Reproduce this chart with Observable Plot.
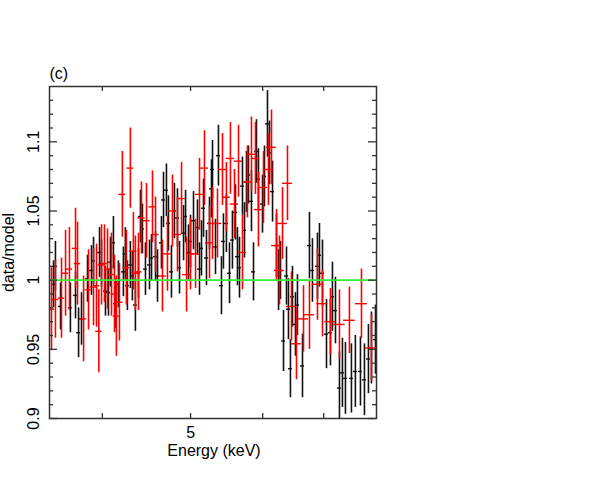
<!DOCTYPE html>
<html>
<head>
<meta charset="utf-8">
<script src="https://cdn.jsdelivr.net/npm/d3@7"></script>
<script src="https://cdn.jsdelivr.net/npm/@observablehq/plot@0.6"></script>
<style>
  html, body { margin: 0; padding: 0; background: #fff; }
</style>
</head>
<body>
<div id="chart"></div>
<script>
// ---- Data: black data set (energy keV, data/model ratio, 1-sigma error) ----
const blackE = [3.536,3.553,3.599,3.690,3.738,3.767,3.795,3.853,3.892,3.912,3.972,3.992,
  4.032,4.063,4.083,4.114,4.135,4.166,4.219,4.240,4.262,4.294,4.316,4.349,4.383,4.405,4.427,4.461,4.507,4.530,4.576,4.599,
  4.645,4.669,4.704,4.728,4.764,4.800,4.837,4.862,4.912,4.937,4.974,4.999,5.037,5.088,5.114,5.140,5.166,5.205,5.245,5.271,
  5.285,5.325,5.365,5.406,5.433,5.474,5.517,5.558,5.601,5.629,5.658,5.701,5.730,5.759,5.788,5.832,5.862,5.906,5.936,5.997,6.027,
  6.073,6.104,6.151,6.213,6.245,6.276,6.324,6.372,6.404,6.436,6.469,6.518,6.551,6.635,6.753,6.804,6.891,6.926,
  6.979,7.050,7.121,7.157,7.212,7.285,7.340,7.396,7.509,7.584,7.682,7.760,7.839,7.899,7.980];
const blackR = [0.997,1.010,0.981,0.980,0.989,0.962,0.972,1.001,1.007,1.014,1.020,1.012,
  0.992,0.991,1.013,1.027,0.983,0.997,1.006,1.019,0.996,1.011,1.003,0.982,1.005,1.046,1.037,1.008,1.011,1.016,1.017,1.003,
  1.027,1.058,1.065,1.041,1.006,1.050,1.045,1.009,1.034,1.046,1.020,1.028,1.043,1.038,1.008,1.023,1.052,1.016,1.041,1.066,
  1.080,1.024,1.090,0.996,1.028,1.041,1.005,1.029,1.049,1.017,1.009,1.068,1.036,1.071,1.076,1.057,1.006,1.093,1.073,1.055,1.075,
  1.113,1.092,1.064,1.025,1.000,1.007,0.956,1.003,0.979,0.936,0.988,0.968,0.982,0.938,1.025,1.007,1.010,1.018,
  1.005,0.961,0.962,0.988,0.978,0.922,0.933,0.929,0.929,0.934,0.934,0.928,0.943,0.951,0.957];
const blackErr = [0.017,0.018,0.017,0.018,0.017,0.018,0.019,0.017,0.018,0.017,0.018,0.017,
  0.018,0.017,0.018,0.019,0.018,0.017,0.018,0.019,0.018,0.017,0.018,0.019,0.018,0.019,0.018,0.019,0.018,0.017,0.018,0.019,
  0.019,0.020,0.019,0.020,0.019,0.020,0.021,0.019,0.020,0.019,0.020,0.019,0.021,0.020,0.019,0.020,0.021,0.020,0.019,0.021,
  0.021,0.020,0.022,0.021,0.020,0.021,0.022,0.021,0.020,0.021,0.022,0.021,0.020,0.022,0.021,0.022,0.021,0.023,0.022,0.021,0.022,
  0.024,0.023,0.022,0.023,0.022,0.021,0.022,0.021,0.022,0.021,0.022,0.023,0.022,0.023,0.024,0.023,0.024,0.023,
  0.024,0.025,0.024,0.025,0.024,0.026,0.025,0.026,0.025,0.026,0.025,0.026,0.025,0.026,0.025];
const blackHalfBin = 0.005; // relative half bin width

// ---- Data: red data set ----
const redE = [3.518,3.553,3.608,3.645,3.681,3.738,3.757,3.815,3.863,3.912,3.942,3.965,3.992,
  4.022,4.053,4.094,4.125,4.145,4.177,4.208,4.251,4.294,4.327,4.349,4.383,4.416,4.473,4.541,4.576,
  4.657,4.716,4.776,4.837,4.887,4.949,4.999,5.063,5.114,5.179,5.245,
  5.285,5.352,5.420,5.474,5.530,5.587,5.644,5.701,5.773,5.832,5.891,5.936,6.012,
  6.088,6.135,6.213,6.260,6.308,6.388,6.453,6.535,6.652,6.753,6.891,
  6.979,7.121,7.285,7.471,7.702,7.899];
const redR = [0.979,0.986,0.987,1.005,1.008,1.023,1.012,0.972,0.993,0.995,0.996,0.963,1.011,
  1.012,1.008,1.004,0.990,0.974,0.984,1.062,1.009,1.081,1.021,1.005,1.006,1.045,1.043,1.053,1.033,
  1.003,1.019,1.050,1.033,1.059,1.004,1.019,1.019,1.062,1.081,1.027,
  1.041,1.041,1.080,1.060,1.088,1.055,1.086,1.020,1.071,1.091,1.088,1.051,1.067,
  1.080,1.096,1.025,1.007,1.041,1.070,0.981,0.954,0.972,0.975,0.997,
  0.983,0.970,0.968,0.971,0.983,0.951];
const redErr = [0.030,0.028,0.029,0.031,0.030,0.029,0.030,0.031,0.029,0.028,0.030,0.030,0.029,
  0.028,0.029,0.030,0.028,0.029,0.028,0.031,0.027,0.029,0.028,0.027,0.028,0.026,0.027,0.026,0.027,
  0.026,0.027,0.026,0.027,0.026,0.027,0.026,0.025,0.026,0.027,0.026,
  0.026,0.025,0.026,0.025,0.026,0.025,0.026,0.027,0.026,0.027,0.026,0.027,0.026,
  0.026,0.027,0.026,0.025,0.026,0.027,0.025,0.026,0.024,0.025,0.026,
  0.024,0.024,0.025,0.024,0.025,0.024];
const redXErr = [0.028,0.028,0.029,0.029,0.029,0.030,0.030,0.030,0.031,0.031,0.031,0.032,0.032,
  0.034,0.034,0.035,0.035,0.035,0.036,0.036,0.037,0.037,0.038,0.038,0.039,0.040,0.040,0.041,0.041,
  0.046,0.046,0.047,0.048,0.048,0.049,0.050,0.050,0.051,0.052,0.052,
  0.055,0.056,0.056,0.057,0.058,0.058,0.059,0.060,0.061,0.061,0.062,0.062,0.063,
  0.075,0.076,0.077,0.078,0.079,0.080,0.081,0.082,0.084,0.085,0.087,
  0.095,0.100,0.105,0.110,0.115,0.115];

// ---- Model line and axes ----
const modelLevel = [1];
const xDomain = [3.5, 8];
const yDomain = [0.9, 1.14];
const xTicks = [4, 5, 6, 7];
const xLabels = [5];
const yMajor = [0.9, 0.95, 1, 1.05, 1.1];
const yMinor = [0.91,0.92,0.93,0.94,0.96,0.97,0.98,0.99,1.01,1.02,1.03,1.04,1.06,1.07,1.08,1.09,1.11,1.12,1.13];
const panelLabel = "(c)";
const xTitle = "Energy (keV)";
const yTitle = "data/model";

const black = blackE.map((e, i) => ({E: e, r: blackR[i], lo: blackR[i] - blackErr[i], hi: blackR[i] + blackErr[i],
  x1: e * (1 - blackHalfBin), x2: e * (1 + blackHalfBin)}));
const red = redE.map((e, i) => ({E: e, r: redR[i], lo: redR[i] - redErr[i], hi: redR[i] + redErr[i],
  x1: e - redXErr[i], x2: e + redXErr[i]}));

const FW = 327, FH = 332; // frame size in px (for tick insets)
const font = "'Liberation Sans', Arial, Helvetica, sans-serif";

const chart = Plot.plot({
  width: 598,
  height: 481,
  marginLeft: 49,
  marginRight: 222,
  marginTop: 86,
  marginBottom: 63,
  style: {fontFamily: font, fontSize: "16px", background: "#fff", color: "#000"},
  x: {type: "log", domain: xDomain, axis: null},
  y: {domain: yDomain, axis: null},
  marks: [
    // black data
    Plot.ruleX(black, {x: "E", y1: "lo", y2: "hi", stroke: "#111", strokeWidth: 1.6, clip: true}),
    Plot.ruleY(black, {y: "r", x1: "x1", x2: "x2", stroke: "#111", strokeWidth: 1.4, clip: true}),
    // red data
    Plot.ruleX(red, {x: "E", y1: "lo", y2: "hi", stroke: "#ff0000", strokeWidth: 1.6, clip: true}),
    Plot.ruleY(red, {y: "r", x1: "x1", x2: "x2", stroke: "#ff0000", strokeWidth: 1.4, clip: true}),
    // model
    Plot.ruleY(modelLevel, {y: d => d, stroke: "#33ee33", strokeWidth: 1.8}),
    // frame
    Plot.frame({stroke: "#333", strokeWidth: 1.5}),
    // x ticks (inward, bottom and top)
    Plot.ruleX(xTicks, {x: d => d, insetTop: FH - 5, stroke: "#333", strokeWidth: 1.3}),
    Plot.ruleX(xTicks, {x: d => d, insetBottom: FH - 5, stroke: "#333", strokeWidth: 1.3}),
    // y ticks (inward, left and right)
    Plot.ruleY(yMajor, {y: d => d, insetRight: FW - 8, stroke: "#333", strokeWidth: 1.3}),
    Plot.ruleY(yMinor, {y: d => d, insetRight: FW - 4, stroke: "#333", strokeWidth: 1.3}),
    Plot.ruleY(yMajor, {y: d => d, insetLeft: FW - 8, stroke: "#333", strokeWidth: 1.3}),
    Plot.ruleY(yMinor, {y: d => d, insetLeft: FW - 4, stroke: "#333", strokeWidth: 1.3}),
    // tick labels
    Plot.text(xLabels, {x: d => d, text: d => String(d), frameAnchor: "bottom", dy: 14.5,
      lineAnchor: "middle", fontSize: 16, fill: "#000"}),
    Plot.text(yMajor, {y: d => d, text: d => String(d), frameAnchor: "left", dx: -16, rotate: -90,
      textAnchor: "middle", lineAnchor: "middle", fontSize: 16, fill: "#000"}),
    // titles
    Plot.text([xTitle], {text: d => d, frameAnchor: "bottom", dx: 1, dy: 37.5, lineAnchor: "bottom",
      fontSize: 16, fill: "#000"}),
    Plot.text([yTitle], {text: d => d, frameAnchor: "left", dx: -36, rotate: -90, textAnchor: "middle",
      lineAnchor: "bottom", fontSize: 16, fill: "#000"}),
    Plot.text([panelLabel], {text: d => d, frameAnchor: "top-left", dy: -7.5, textAnchor: "start",
      lineAnchor: "bottom", fontSize: 16, fill: "#000"})
  ]
});
document.getElementById("chart").appendChild(chart);
</script>
</body>
</html>
